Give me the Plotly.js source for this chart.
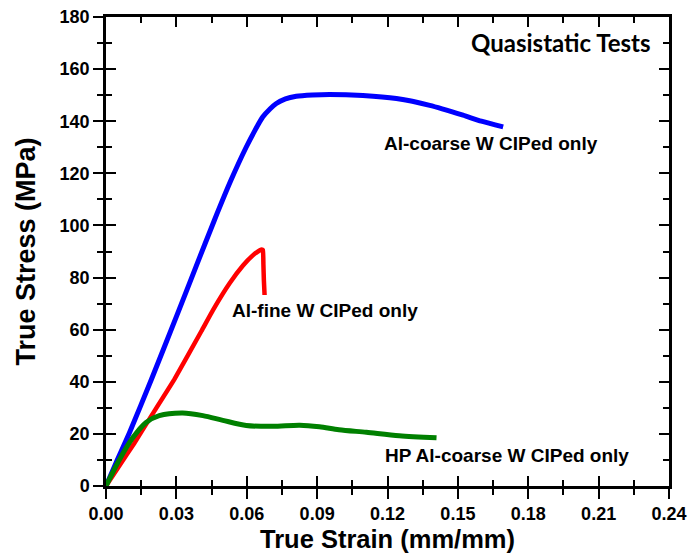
<!DOCTYPE html>
<html>
<head>
<meta charset="utf-8">
<script src="https://cdn.plot.ly/plotly-3.0.1.min.js"></script>
<style>html,body{margin:0;padding:0;background:#fff;}#chart{width:690px;height:556px;}</style>
</head>
<body>
<div id="chart"></div>
<script>
// ---- data ----
const coarseStrain = [0, 0.0043, 0.010, 0.0193, 0.030, 0.0385, 0.0462, 0.0533, 0.0598, 0.0635, 0.0668, 0.0700, 0.0726, 0.0765, 0.0811, 0.0880, 0.0953, 0.1095, 0.1238, 0.1380, 0.1522, 0.1600, 0.1693];
const coarseStress = [0, 8.9, 20.4, 40.8, 65.0, 84.5, 102.0, 117.4, 130.1, 136.5, 141.6, 144.8, 146.8, 148.6, 149.6, 150.1, 150.3, 149.9, 148.7, 146.1, 142.3, 140.0, 137.8];

const fineStrain = [0, 0.0057, 0.012, 0.018, 0.0292, 0.0407, 0.0456, 0.0527, 0.0584, 0.0627, 0.0656, 0.0664, 0.0669, 0.0671, 0.0673, 0.0676];
const fineStress = [0, 7.8, 16.3, 25.0, 41.0, 59.5, 67.5, 77.8, 84.6, 88.6, 90.5, 90.8, 90.6, 85.0, 79.0, 73.3];

const hpStrain = [0, 0.0057, 0.0114, 0.0171, 0.0227, 0.0327, 0.0413, 0.0498, 0.0598, 0.0712, 0.0826, 0.0910, 0.0993, 0.1110, 0.1250, 0.1409];
const hpStress = [0, 10.1, 18.5, 24.4, 27.0, 28.0, 27.0, 25.2, 23.2, 22.9, 23.3, 22.7, 21.6, 20.6, 19.3, 18.5];

const seriesNames = ["Al-coarse W CIPed only", "Al-fine W CIPed only", "HP Al-coarse W CIPed only"];
const chartNote = "Quasistatic Tests";
const xTitle = "True Strain (mm/mm)";
const yTitle = "True Stress (MPa)";
const xRange = [0, 0.24];
const yRange = [0, 180];

// ---- chart ----
const tickFont = {family: "Liberation Sans, Arial, sans-serif", size: 18, color: "#000", weight: "bold"};
const labelFont = {family: "Liberation Sans, Arial, sans-serif", size: 19, color: "#000", weight: "bold"};

const traces = [
  {x: coarseStrain, y: coarseStress, name: seriesNames[0], mode: "lines", line: {color: "#0000ff", width: 5, shape: "spline", smoothing: 0.6}},
  {x: fineStrain, y: fineStress, name: seriesNames[1], mode: "lines", line: {color: "#ff0000", width: 4.5, shape: "spline", smoothing: 0.3}},
  {x: hpStrain, y: hpStress, name: seriesNames[2], mode: "lines", line: {color: "#008000", width: 5, shape: "spline", smoothing: 0.8}},
  // invisible helper so the overlay axes (outward ticks at bottom/left) exist
  {x: xRange, y: yRange, xaxis: "x2", yaxis: "y2", mode: "markers", marker: {opacity: 0}, hoverinfo: "skip", showlegend: false}
];

const layout = {
  width: 690, height: 556,
  margin: {l: 106, r: 21, t: 17, b: 70, pad: 0},
  paper_bgcolor: "#fff", plot_bgcolor: "rgba(0,0,0,0)",
  showlegend: false,
  // main axes: labels, titles and inward ticks mirrored to top/right
  xaxis: {
    range: xRange, tickmode: "linear", tick0: 0, dtick: 0.03, tickformat: ".2f",
    showgrid: false, zeroline: false, showline: true, mirror: "ticks", linecolor: "#000", linewidth: 2.5,
    ticks: "inside", ticklen: 10, tickwidth: 2, tickcolor: "#000", tickfont: tickFont, ticklabelstandoff: 10,
    minor: {dtick: 0.015, ticks: "inside", ticklen: 6, tickwidth: 2, tickcolor: "#000"},
    title: {text: xTitle, font: {family: "Liberation Sans, Arial, sans-serif", size: 25.5, color: "#000", weight: "bold"}, standoff: 7}
  },
  yaxis: {
    range: yRange, tickmode: "linear", tick0: 0, dtick: 20,
    showgrid: false, zeroline: false, showline: true, mirror: "ticks", linecolor: "#000", linewidth: 2.5,
    ticks: "inside", ticklen: 10, tickwidth: 2, tickcolor: "#000", tickfont: tickFont, ticklabelstandoff: 10,
    minor: {dtick: 10, ticks: "inside", ticklen: 6, tickwidth: 2, tickcolor: "#000"},
    title: {text: yTitle, font: {family: "Liberation Sans, Arial, sans-serif", size: 27, color: "#000", weight: "bold"}, standoff: 17}
  },
  // overlay axes: outward ticks on bottom and left edges
  xaxis2: {
    range: xRange, overlaying: "x", side: "bottom", anchor: "y2",
    tickmode: "linear", tick0: 0, dtick: 0.03, showticklabels: false,
    showgrid: false, zeroline: false, showline: true, linecolor: "#000", linewidth: 2.5,
    ticks: "outside", ticklen: 10, tickwidth: 2, tickcolor: "#000",
    minor: {dtick: 0.015, ticks: "outside", ticklen: 6, tickwidth: 2, tickcolor: "#000"}
  },
  yaxis2: {
    range: yRange, overlaying: "y", side: "left", anchor: "x2",
    tickmode: "linear", tick0: 0, dtick: 20, showticklabels: false,
    showgrid: false, zeroline: false, showline: true, linecolor: "#000", linewidth: 2.5,
    ticks: "outside", ticklen: 10, tickwidth: 2, tickcolor: "#000",
    minor: {dtick: 10, ticks: "outside", ticklen: 6, tickwidth: 2, tickcolor: "#000"}
  },
  annotations: [
    {x: 0.1175, y: 131.6, xref: "x", yref: "y", text: seriesNames[0], showarrow: false, xanchor: "left", yanchor: "middle", font: labelFont},
    {x: 0.0527, y: 67.3, xref: "x", yref: "y", text: seriesNames[1], showarrow: false, xanchor: "left", yanchor: "middle", font: labelFont},
    {x: 0.1179, y: 11.7, xref: "x", yref: "y", text: seriesNames[2], showarrow: false, xanchor: "left", yanchor: "middle", font: labelFont},
    {x: 0.2333, y: 170.2, xref: "x", yref: "y", text: chartNote, showarrow: false, xanchor: "right", yanchor: "middle",
     font: {family: "Lato, Open Sans, sans-serif", size: 24, color: "#000", weight: "bold"}}
  ]
};

Plotly.newPlot("chart", traces, layout, {displayModeBar: false});
</script>
</body>
</html>
